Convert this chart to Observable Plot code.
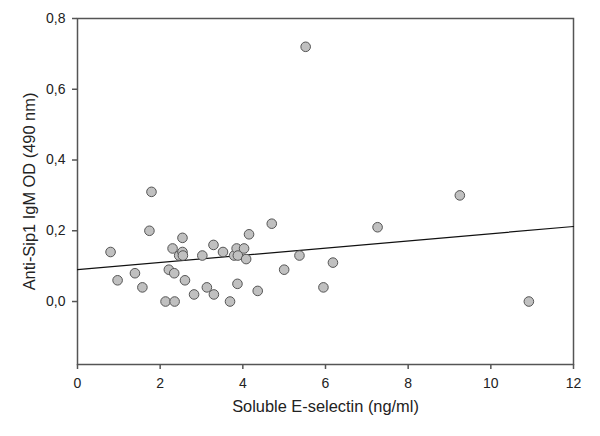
<!DOCTYPE html>
<html><head><meta charset="utf-8">
<script src="https://cdn.jsdelivr.net/npm/d3@7"></script>
<script src="https://cdn.jsdelivr.net/npm/@observablehq/plot@0.6"></script>
<style>body{margin:0;background:#fff;}</style>
</head><body><div id="chart"></div>
<script>
const selectin = [0.80,0.97,1.39,1.57,1.74,1.79,2.13,2.21,2.30,2.35,2.34,2.46,2.54,2.54,2.55,2.60,2.82,3.02,3.13,3.29,3.30,3.52,3.69,3.79,3.85,3.87,3.88,4.03,4.08,4.15,4.36,4.70,5.00,5.37,5.52,5.95,6.18,7.26,9.25,10.92];
const igm      = [0.14,0.06,0.08,0.04,0.20,0.31,0.00,0.09,0.15,0.00,0.08,0.13,0.18,0.14,0.13,0.06,0.02,0.13,0.04,0.16,0.02,0.14,0.00,0.13,0.15,0.05,0.13,0.15,0.12,0.19,0.03,0.22,0.09,0.13,0.72,0.04,0.11,0.21,0.30,0.00];
const fitX = [0, 12];
const fitY = [0.09, 0.212];
const xTicks = [0,2,4,6,8,10,12];
const yTicks = [0,0.2,0.4,0.6,0.8];

const pts = selectin.map((x,i)=>({x, y: igm[i]}));
const fit = fitX.map((x,i)=>({x, y: fitY[i]}));
const fmt = d => d.toFixed(1).replace(".", ",");

const chart = Plot.plot({
  width: 600, height: 436,
  marginLeft: 77, marginRight: 27, marginTop: 18, marginBottom: 72,
  style: {fontFamily: "Liberation Sans, Arial, sans-serif", fontSize: "14px", color: "#222", background: "#fff"},
  x: {domain: [0, 12], label: null},
  y: {domain: [-0.178, 0.8], label: null},
  marks: [
    Plot.frame({stroke: "#555", strokeWidth: 1.5}),
    Plot.axisX({ticks: xTicks, tickSize: 5, tickPadding: 9, stroke: "#555", strokeWidth: 1.5, fontSize: 14, label: null}),
    Plot.axisY({ticks: yTicks, tickFormat: fmt, tickSize: 5, tickPadding: 7, stroke: "#555", strokeWidth: 1.5, fontSize: 14, label: null}),
    Plot.line(fit, {x: "x", y: "y", stroke: "#111", strokeWidth: 1.2}),
    Plot.dot(pts, {x: "x", y: "y", r: 4.8, fill: "#c0c0c0", stroke: "#555", strokeWidth: 1}),
    Plot.text(["Soluble E-selectin (ng/ml)"], {frameAnchor: "bottom", textAnchor: "middle", dy: 47, fontSize: 16.4, fill: "#222"}),
    Plot.text(["Anti-Sip1 IgM OD (490 nm)"], {frameAnchor: "left", textAnchor: "middle", dx: -48, rotate: -90, fontSize: 16.4, fill: "#222"})
  ]
});
document.getElementById("chart").appendChild(chart);
</script>
</body></html>
